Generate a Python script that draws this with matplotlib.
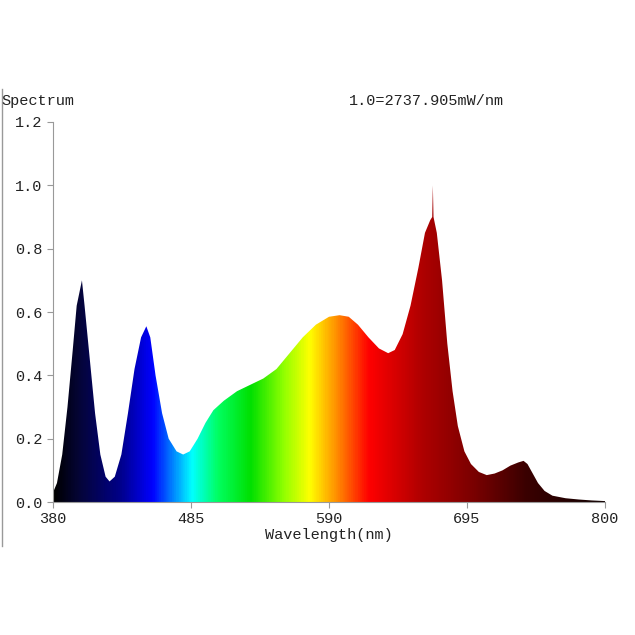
import numpy as np
import matplotlib
matplotlib.use("Agg")
import matplotlib.pyplot as plt
from matplotlib.colors import LinearSegmentedColormap
from matplotlib.lines import Line2D

# spectrum (normalised, 1.0 = 2737.905 mW/nm)
wavelength = [380, 383, 387, 391, 395, 398, 400, 402, 404, 408, 412, 416, 420, 423, 427,
              432, 437, 442, 447, 451, 454, 458, 463, 468, 474, 479, 484, 490, 496, 502,
              510, 520, 530, 540, 550, 560, 570, 580, 590, 598, 605, 612, 620, 628, 635,
              640, 646, 652, 658, 663, 667, 668.5, 669, 669.5, 672, 676, 680, 684, 688, 693,
              698, 704, 710, 716, 722, 728, 734, 738, 741, 745, 749, 754, 760, 770, 780,
              790, 800]
intensity = [0.03, 0.06, 0.15, 0.30, 0.48, 0.62, 0.66, 0.70, 0.62, 0.45, 0.28, 0.15, 0.08, 0.065, 0.08,
             0.15, 0.28, 0.42, 0.52, 0.555, 0.52, 0.40, 0.28, 0.20, 0.16, 0.15, 0.16, 0.20, 0.25, 0.29,
             0.32, 0.35, 0.37, 0.39, 0.42, 0.47, 0.52, 0.56, 0.585, 0.59, 0.585, 0.56, 0.52, 0.485, 0.47,
             0.48, 0.53, 0.62, 0.74, 0.85, 0.89, 0.90, 1.0, 0.90, 0.85, 0.70, 0.50, 0.35, 0.24, 0.16,
             0.12, 0.095, 0.085, 0.09, 0.10, 0.115, 0.125, 0.13, 0.12, 0.09, 0.06, 0.035, 0.02, 0.012, 0.008,
             0.005, 0.003]

x_ticks = [380, 485, 590, 695, 800]
y_ticks = [0.0, 0.2, 0.4, 0.6, 0.8, 1.0, 1.2]

# colour stops along the wavelength axis
stops = [(380, "#000000"), (400, "#05053a"), (430, "#000088"), (455, "#0000ff"),
         (470, "#0080ff"), (485, "#00ffff"), (505, "#00ff60"), (530, "#00e000"),
         (555, "#90ff00"), (575, "#ffff00"), (595, "#ff9000"), (620, "#ff0000"),
         (660, "#b00000"), (700, "#7a0000"), (740, "#3a0000"), (800, "#100000")]

font = "Liberation Mono"
plt.rcParams["font.family"] = [font, "DejaVu Sans Mono"]

fig = plt.figure(figsize=(6.35, 6.35), dpi=100)
ax = fig.add_axes([0.0835, 0.2094, 0.8693, 0.5985])

cmap = LinearSegmentedColormap.from_list(
    "spec", [((w - 380) / 420, c) for w, c in stops])
grad = np.linspace(0, 1, 840).reshape(1, -1)
im = ax.imshow(grad, cmap=cmap, aspect="auto", extent=[380, 800, 0, 1.2],
               interpolation="bilinear", zorder=1)
poly = ax.fill_between(wavelength, 0, intensity, color="none", lw=0)
clip = poly.get_paths()[0]
im.set_clip_path(clip, transform=ax.transData)

ax.set_xlim(380, 800)
ax.set_ylim(0, 1.2)
ax.set_xticks(x_ticks)
ax.set_yticks(y_ticks)
ax.set_yticklabels([f"{v:.1f}" for v in y_ticks])
for s in ["top", "right"]:
    ax.spines[s].set_visible(False)
for s in ["left", "bottom"]:
    ax.spines[s].set_color("#999999")
ax.tick_params(colors="#999999", labelcolor="#222222", labelsize=11, length=4)
ax.set_xlabel("Wavelength(nm)", fontsize=11, color="#222222", labelpad=1)

fig.text(0.002, 0.83, "Spectrum", fontsize=11, color="#222222", va="bottom")
fig.text(0.55, 0.83, "1.0=2737.905mW/nm", fontsize=11, color="#222222", va="bottom")
fig.add_artist(Line2D([0.003, 0.003], [0.14, 0.86], transform=fig.transFigure,
                      color="#999999", lw=1))

fig.savefig("out.png", dpi=100)
